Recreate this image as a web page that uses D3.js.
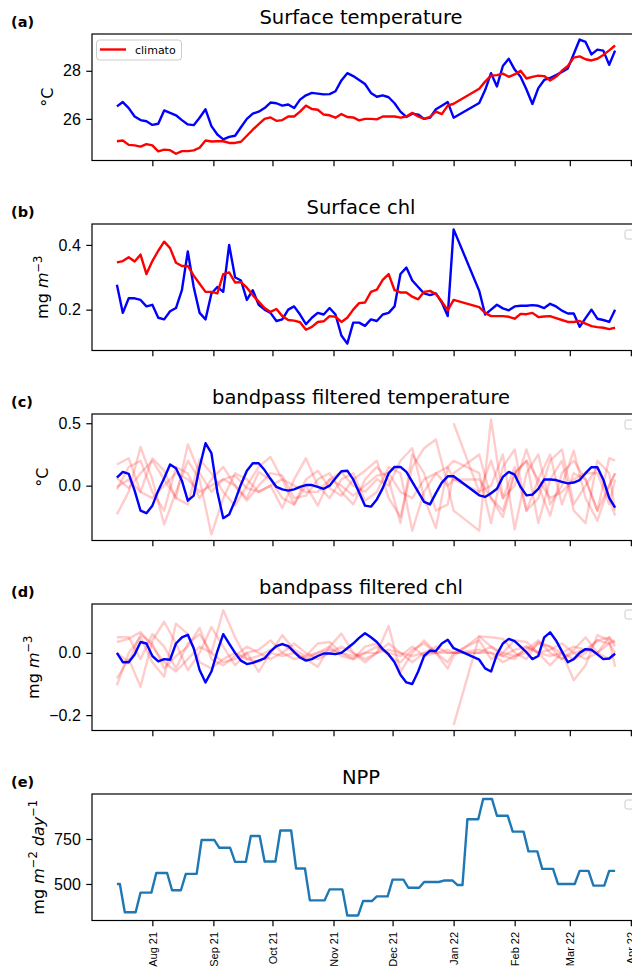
<!DOCTYPE html>
<html>
<head>
<meta charset="utf-8">
<script src="https://cdn.jsdelivr.net/npm/d3@7"></script>
<style>
body { margin: 0; background: #fff; }
svg { display: block; font-family: "DejaVu Sans", sans-serif; }
</style>
</head>
<body>
<svg width="632" height="973"></svg>
<script>
// sample dates (gap early January)
var dates = ["2021-07-14","2021-07-17","2021-07-20","2021-07-23","2021-07-26","2021-07-29",
	"2021-08-01","2021-08-04","2021-08-07","2021-08-10","2021-08-13","2021-08-16","2021-08-19","2021-08-22","2021-08-25","2021-08-28","2021-08-31",
	"2021-09-03","2021-09-06","2021-09-09","2021-09-12","2021-09-15","2021-09-18","2021-09-21","2021-09-24","2021-09-27","2021-09-30",
	"2021-10-03","2021-10-06","2021-10-09","2021-10-12","2021-10-15","2021-10-18","2021-10-21","2021-10-24","2021-10-27","2021-10-30",
	"2021-11-02","2021-11-05","2021-11-08","2021-11-11","2021-11-14","2021-11-17","2021-11-20","2021-11-23","2021-11-26","2021-11-29",
	"2021-12-02","2021-12-05","2021-12-08","2021-12-11","2021-12-14","2021-12-17","2021-12-20","2021-12-23","2021-12-26","2021-12-29",
	"2022-01-01","2022-01-14","2022-01-17","2022-01-20","2022-01-23","2022-01-26","2022-01-29",
	"2022-02-01","2022-02-04","2022-02-07","2022-02-10","2022-02-13","2022-02-16","2022-02-19","2022-02-22","2022-02-25","2022-02-28",
	"2022-03-03","2022-03-06","2022-03-09","2022-03-12","2022-03-15","2022-03-18","2022-03-21","2022-03-24"];

var sstObs = [26.52, 26.70, 26.45, 26.1, 25.95, 25.9, 25.75, 25.8, 26.35, 26.25,
	26.15, 25.95, 25.77, 25.74, 26.05, 26.4, 25.7, 25.35, 25.15, 25.25,
	25.3, 25.65, 26.0, 26.22, 26.3, 26.45, 26.68, 26.65, 26.55, 26.6,
	26.45, 26.8, 26.98, 27.08, 27.05, 27.02, 27.03, 27.15, 27.6, 27.9,
	27.78, 27.62, 27.45, 27.08, 26.92, 26.98, 26.9, 26.65, 26.3, 26.08,
	26.22, 26.18, 26.0, 26.05, 26.4, 26.55, 26.7, 26.05, 26.66, 27.2,
	27.9, 27.35, 28.2, 28.5, 28.05, 27.75, 27.22, 26.62, 27.28, 27.62,
	27.7, 27.82, 27.95, 28.1, 28.7, 29.3, 29.2, 28.68, 28.88, 28.84,
	28.25, 28.84];
var sstClim = [25.07, 25.1, 24.92, 24.9, 24.85, 24.95, 24.9, 24.65, 24.72, 24.7,
	24.55, 24.66, 24.66, 24.69, 24.8, 25.1, 25.06, 25.07, 25.07, 25.0,
	25.0, 25.05, 25.3, 25.55, 25.78, 26.0, 26.06, 25.92, 25.95, 26.1,
	26.1, 26.3, 26.55, 26.41, 26.38, 26.18, 26.15, 26.05, 26.2, 26.08,
	26.06, 25.94, 26.0, 26.0, 25.98, 26.1, 26.1, 26.1, 26.05, 26.1,
	26.25, 26.1, 26.0, 26.08, 26.3, 26.2, 26.55, 26.63, 27.25, 27.55,
	27.8, 27.82, 27.88, 27.75, 27.85, 28.0, 27.68, 27.75, 27.8, 27.78,
	27.6, 27.75, 28.0, 28.2, 28.55, 28.6, 28.48, 28.43, 28.5, 28.66,
	28.85, 29.05];

var chlObs = [0.277, 0.19, 0.235, 0.235, 0.23, 0.21, 0.215, 0.175, 0.17, 0.195,
	0.205, 0.26, 0.38, 0.27, 0.19, 0.17, 0.25, 0.27, 0.255, 0.40,
	0.3, 0.29, 0.23, 0.26, 0.215, 0.2, 0.19, 0.165, 0.17, 0.2,
	0.21, 0.185, 0.155, 0.175, 0.19, 0.185, 0.205, 0.185, 0.12, 0.095,
	0.16, 0.16, 0.15, 0.17, 0.165, 0.185, 0.19, 0.21, 0.31, 0.33,
	0.29, 0.27, 0.25, 0.245, 0.25, 0.222, 0.18, 0.448, 0.258, 0.185,
	0.2, 0.215, 0.204, 0.198, 0.21, 0.212, 0.212, 0.214, 0.212, 0.205,
	0.218, 0.21, 0.197, 0.188, 0.188, 0.147, 0.174, 0.2, 0.172, 0.168,
	0.162, 0.2];
var chlClim = [0.346, 0.35, 0.362, 0.349, 0.37, 0.31, 0.35, 0.382, 0.41, 0.39,
	0.345, 0.335, 0.335, 0.305, 0.28, 0.255, 0.255, 0.25, 0.31, 0.315,
	0.284, 0.285, 0.268, 0.245, 0.225, 0.205, 0.193, 0.202, 0.18, 0.168,
	0.166, 0.161, 0.138, 0.147, 0.162, 0.164, 0.18, 0.178, 0.162, 0.175,
	0.2, 0.22, 0.222, 0.255, 0.262, 0.292, 0.31, 0.26, 0.253, 0.253,
	0.24, 0.232, 0.255, 0.258, 0.248, 0.225, 0.198, 0.23, 0.208, 0.19,
	0.18, 0.18, 0.18, 0.178, 0.172, 0.187, 0.186, 0.19, 0.177, 0.179,
	0.18, 0.174, 0.168, 0.162, 0.162, 0.165, 0.157, 0.149, 0.146, 0.144,
	0.14, 0.144];

var sstBand = [0.065, 0.11, 0.095, -0.04, -0.2, -0.22, -0.16, -0.04, 0.06, 0.17,
	0.14, 0.04, -0.12, -0.08, 0.15, 0.34, 0.26, -0.05, -0.26, -0.23,
	-0.12, 0.01, 0.12, 0.18, 0.18, 0.125, 0.055, -0.01, -0.03, -0.04,
	-0.03, -0.01, 0.005, 0.005, -0.01, -0.025, 0.0, 0.06, 0.115, 0.12,
	0.05, -0.055, -0.16, -0.168, -0.11, -0.02, 0.1, 0.15, 0.15, 0.11,
	0.03, -0.05, -0.13, -0.15, -0.06, 0.025, 0.075, 0.075, -0.077, -0.09,
	-0.06, -0.025, 0.07, 0.11, 0.088, -0.01, -0.078, -0.072, -0.025, 0.05,
	0.05, 0.045, 0.03, 0.018, 0.025, 0.045, 0.1, 0.148, 0.148, 0.05,
	-0.098, -0.175];
var chlBand = [0.0, -0.03, -0.03, -0.005, 0.035, 0.03, -0.01, -0.027, -0.02, -0.022,
	0.03, 0.05, 0.058, 0.015, -0.055, -0.095, -0.06, 0.005, 0.06, 0.03,
	0.0, -0.025, -0.036, -0.032, -0.025, -0.018, 0.005, 0.022, 0.028, 0.022,
	0.003, -0.015, -0.025, -0.02, -0.01, -0.002, -0.002, -0.004, 0.0, 0.015,
	0.03, 0.048, 0.063, 0.05, 0.035, 0.012, -0.005, -0.03, -0.07, -0.095,
	-0.1, -0.06, -0.01, 0.007, 0.006, 0.03, 0.042, 0.015, -0.022, -0.05,
	-0.06, -0.005, 0.03, 0.045, 0.038, 0.02, 0.002, -0.02, -0.01, 0.05,
	0.066, 0.04, 0.005, -0.03, -0.02, 0.0, 0.012, 0.01, -0.005, -0.02,
	-0.018, -0.003];

// other years, bandpassed (every second sample)
var N = null;
var sstYears = [
	[-0.23, -0.05, 0.31, 0.05, -0.31, -0.05, 0.2, 0.05, -0.39, -0.1, 0.1, 0.05, -0.05, 0.0, -0.18, 0.05, 0.22, 0.0, -0.1, 0.05, 0.1, -0.12, -0.05, 0.15, 0.1, -0.36, -0.05, 0.1, 0.0, 0.05, -0.05, 0.0, 0.25, -0.35, 0.1, 0.25, -0.15, 0.0, 0.28, -0.1, -0.28, 0.0, 0.1],
	[0.17, 0.22, -0.05, 0.22, 0.12, -0.1, -0.15, 0.21, 0.1, -0.05, -0.16, 0.0, 0.15, 0.23, 0.05, -0.15, 0.05, 0.12, -0.02, -0.08, 0.05, 0.12, 0.2, -0.1, -0.25, 0.15, 0.3, 0.37, 0.0, -0.2, -0.36, 0.53, -0.1, 0.0, 0.29, 0.0, -0.24, 0.1, 0.2, 0.05, -0.2, 0.22, 0.2],
	[0.06, -0.02, 0.1, 0.2, 0.05, -0.1, 0.33, 0.1, -0.05, 0.05, 0.0, -0.1, 0.11, 0.05, -0.1, -0.15, 0.0, -0.16, 0.05, 0.11, 0.0, -0.05, 0.05, 0.0, 0.2, 0.3, -0.1, -0.34, 0.15, 0.2, 0.1, -0.3, 0.15, 0.29, -0.2, -0.1, 0.2, 0.29, -0.15, 0.0, 0.15, -0.1, -0.24],
	[-0.01, 0.05, -0.05, -0.1, 0.0, 0.1, 0.05, -0.05, 0.0, 0.05, 0.08, -0.02, -0.05, 0.0, 0.05, 0.0, -0.05, -0.05, 0.05, 0.0, -0.08, 0.0, 0.08, 0.1, -0.05, -0.1, 0.05, 0.1, 0.15, 0.05, 0.05, -0.1, -0.2, 0.1, 0.2, 0.05, -0.1, -0.05, 0.05, 0.1, 0.1, -0.15, 0.05],
	[-0.03, 0.15, 0.2, -0.05, -0.2, 0.15, 0.1, -0.1, 0.05, 0.15, 0.0, -0.12, 0.0, 0.1, 0.08, -0.1, -0.08, 0.05, 0.1, -0.05, -0.15, 0.05, 0.15, 0.05, -0.3, 0.25, 0.1, -0.2, -0.15, 0.1, 0.25, -0.1, -0.25, 0.1, 0.2, -0.3, 0.05, 0.2, -0.2, -0.3, 0.2, 0.1, -0.2],
	[N, N, N, N, N, N, N, N, N, N, N, N, N, N, N, N, N, N, N, N, N, N, N, N, N, N, N, N, N, 0.5, -0.05, 0.2, -0.1, 0.15, -0.2, 0.05, 0.25, -0.15, 0.1, 0.05, -0.2, 0.0, 0.1]
];
var chlYears = [
	[0.035, 0.045, 0.067, 0.02, -0.03, -0.06, -0.02, 0.02, 0.0, 0.137, 0.05, -0.02, -0.03, 0.0, -0.01, 0.0, -0.02, -0.045, 0.02, 0.062, 0.0, -0.03, 0.0, 0.086, -0.061, 0.0, 0.04, 0.0, -0.05, -0.01, 0.053, 0.05, 0.045, 0.0, -0.02, 0.035, 0.02, 0.0, -0.02, 0.0, 0.04, 0.03, 0.0],
	[-0.082, -0.02, -0.109, 0.04, 0.1, 0.03, -0.056, 0.0, 0.083, 0.02, -0.04, 0.0, -0.061, 0.0, 0.057, 0.01, -0.01, 0.0, 0.02, -0.01, -0.02, 0.0, 0.02, 0.0, -0.01, 0.02, -0.01, 0.0, 0.01, 0.0, 0.04, -0.02, 0.0, 0.04, 0.035, 0.0, -0.04, 0.0, -0.088, -0.04, 0.057, 0.04, -0.045],
	[-0.104, 0.0, 0.05, -0.03, -0.077, 0.094, 0.06, -0.03, -0.05, -0.02, 0.0, -0.02, -0.01, 0.01, 0.03, 0.0, -0.02, 0.0, 0.01, 0.0, -0.01, 0.0, 0.0, 0.01, 0.0, -0.01, 0.0, 0.0, 0.0, 0.0, 0.01, 0.0, -0.01, 0.01, 0.02, 0.0, -0.01, 0.0, 0.02, 0.01, 0.0, 0.03, 0.04],
	[0.05, 0.05, -0.02, 0.06, 0.02, -0.05, 0.03, 0.06, 0.0, -0.03, -0.02, 0.0, 0.01, 0.04, 0.0, -0.02, -0.01, 0.03, 0.035, 0.0, -0.02, 0.02, 0.03, -0.01, -0.03, 0.01, 0.03, 0.0, -0.03, 0.0, 0.0, 0.0, -0.03, -0.01, 0.01, 0.04, 0.0, -0.02, 0.01, 0.05, 0.0, -0.02, 0.0],
	[0.0, -0.03, 0.06, 0.03, -0.05, -0.01, 0.02, 0.08, -0.02, -0.04, -0.01, 0.02, 0.0, -0.02, 0.0, 0.03, 0.0, -0.02, 0.0, 0.02, 0.0, -0.02, 0.0, 0.03, 0.0, -0.03, 0.0, 0.02, 0.0, 0.0, 0.0, 0.02, -0.01, -0.02, 0.02, 0.0, 0.01, 0.03, 0.0, -0.02, 0.0, 0.05, 0.02],
	[N, N, N, N, N, N, N, N, N, N, N, N, N, N, N, N, N, N, N, N, N, N, N, N, N, N, N, N, N, -0.232, 0.053, 0.02, 0.0, -0.01, 0.0, 0.03, 0.02, -0.02, 0.0, 0.01, 0.04, 0.05, 0.03]
];

// 8-day NPP composites
var nppDates = ["2021-07-14","2021-07-18","2021-07-26","2021-08-03","2021-08-11","2021-08-18","2021-08-26",
	"2021-09-04","2021-09-12","2021-09-20","2021-09-27","2021-10-05","2021-10-13","2021-10-20","2021-10-30",
	"2021-11-08","2021-11-16","2021-11-23","2021-12-01","2021-12-09","2021-12-17","2021-12-27",
	"2022-01-03","2022-01-08","2022-01-16","2022-01-23","2022-01-31","2022-02-08","2022-02-15","2022-02-23",
	"2022-03-06","2022-03-13","2022-03-21"];
var nppValues = [500, 343, 452, 561, 465, 556, 744, 701, 623, 767,
	625, 797, 586, 409, 470, 325, 405, 431, 524, 479,
	511, 519, 494, 860, 972, 879, 791, 681, 584, 500,
	573, 491, 573];

var parse = d3.timeParse("%Y-%m-%d");
var t = dates.map(parse);
var tFaint = t.filter(function(d, i) { return i % 2 === 0 || i === 57 || i === 81; });

var svg = d3.select("svg");
var left = 92, right = 640, ph = 126.5;

var t0 = d3.min(t), t1 = d3.max(t), pad = (t1 - t0) * 0.05;
var x = d3.scaleTime()
	.domain([new Date(+t0 - pad), new Date(+t1 + pad)])
	.range([left, right]);

var blue = "#0000ff", red = "#ff0000", faint = "rgba(255,0,0,0.2)", tab = "#1f77b4";

function pairs(tt, vv) {
	return tt.map(function(d, i) { return [d, vv[i]]; });
}

// step line for NPP
var nppPts = [];
var nd = nppDates.map(parse);
for (var i = 0; i < nd.length; i++) {
	var end = i < nd.length - 1 ? d3.timeHour.offset(nd[i + 1], -60) : t1;
	nppPts.push([nd[i], nppValues[i]]);
	nppPts.push([end, nppValues[i]]);
}

var panels = [
	{ top: 34, label: "(a)", title: "Surface temperature", dom: [24.27, 29.53], ticks: [26, 28], fmt: "d",
		ylabel: [{ t: "°C" }],
		lines: [{ d: pairs(t, sstObs), c: blue }, { d: pairs(t, sstClim), c: red }] },
	{ top: 224, label: "(b)", title: "Surface chl", dom: [0.0738, 0.4646], ticks: [0.2, 0.4], fmt: ".1f",
		ylabel: [{ t: "mg " }, { t: "m", it: 1 }, { t: "\u22123", sup: 1, dy: -6.5 }],
		lines: [{ d: pairs(t, chlObs), c: blue }, { d: pairs(t, chlClim), c: red }] },
	{ top: 414, label: "(c)", title: "bandpass filtered temperature", dom: [-0.439, 0.574], ticks: [0, 0.5], fmt: ".1f",
		ylabel: [{ t: "°C" }],
		lines: sstYears.map(function(v) { return { d: pairs(tFaint, v), c: faint }; })
			.concat([{ d: pairs(t, sstBand), c: blue }]) },
	{ top: 604, label: "(d)", title: "bandpass filtered chl", dom: [-0.2494, 0.157], ticks: [-0.2, 0], fmt: ".1f",
		ylabel: [{ t: "mg " }, { t: "m", it: 1 }, { t: "\u22123", sup: 1, dy: -6.5 }],
		lines: chlYears.map(function(v) { return { d: pairs(tFaint, v), c: faint }; })
			.concat([{ d: pairs(t, chlBand), c: blue }]) },
	{ top: 794, label: "(e)", title: "NPP", dom: [297, 1000], ticks: [500, 750], fmt: "d",
		ylabel: [{ t: "mg " }, { t: "m", it: 1 }, { t: "\u22122", sup: 1, dy: -6.5 }, { t: " ", dy: 6.5 },
			{ t: "day", it: 1 }, { t: "\u22121", sup: 1, dy: -6.5 }],
		lines: [{ d: nppPts, c: tab }], dates: true }
];

panels.forEach(function(p, pi) {
	var bottom = p.top + ph;
	var y = d3.scaleLinear().domain(p.dom).range([bottom, p.top]);

	svg.append("clipPath").attr("id", "clip" + pi)
		.append("rect").attr("x", left).attr("y", p.top).attr("width", right - left).attr("height", ph);

	var line = d3.line()
		.defined(function(d) { return d[1] != null; })
		.x(function(d) { return x(d[0]); })
		.y(function(d) { return y(d[1]); });

	var g = svg.append("g").attr("clip-path", "url(#clip" + pi + ")");
	p.lines.forEach(function(l) {
		g.append("path")
			.attr("d", line(l.d))
			.attr("fill", "none")
			.attr("stroke", l.c)
			.attr("stroke-width", 2.4)
			.attr("stroke-linejoin", "round");
	});

	// frame
	svg.append("rect")
		.attr("x", left).attr("y", p.top)
		.attr("width", right - left).attr("height", ph)
		.attr("fill", "none").attr("stroke", "#000").attr("stroke-width", 1.2);

	var ya = svg.append("g")
		.attr("transform", "translate(" + left + ",0)")
		.call(d3.axisLeft(y).tickValues(p.ticks).tickFormat(d3.format(p.fmt)).tickSize(5.7).tickPadding(5.5));
	ya.select(".domain").remove();
	ya.selectAll("line").attr("stroke-width", 1.2);
	ya.selectAll("text").style("font-size", "16px").attr("fill", "#000");

	var xa = svg.append("g")
		.attr("transform", "translate(0," + bottom + ")")
		.call(d3.axisBottom(x).ticks(d3.timeMonth.every(1)).tickSize(5.7)
			.tickFormat(p.dates ? d3.timeFormat("%b %y") : ""));
	xa.select(".domain").remove();
	xa.selectAll("line").attr("stroke-width", 1.2);
	if (p.dates) {
		xa.selectAll("text")
			.style("font-size", "11px")
			.attr("fill", "#000")
			.attr("text-anchor", "end")
			.attr("transform", "translate(0,11.4) rotate(-90)")
			.attr("x", 0).attr("y", 0).attr("dy", "0.35em");
	}

	// y label left of the tick labels
	var minX = d3.min(ya.selectAll("text").nodes(), function(n) { return n.getBBox().x; });
	var bx = left + minX - 6.5 - 3.8;
	var yl = svg.append("text")
		.attr("transform", "translate(" + bx + "," + (p.top + ph / 2) + ") rotate(-90)")
		.attr("text-anchor", "middle")
		.style("font-size", "16px");
	p.ylabel.forEach(function(part) {
		yl.append("tspan")
			.text(part.t)
			.attr("font-style", part.it ? "italic" : null)
			.style("font-size", part.sup ? "11.5px" : null)
			.attr("dy", part.dy || null);
	});

	svg.append("text")
		.attr("x", (left + right) / 2 - 5)
		.attr("y", p.top - 10)
		.attr("text-anchor", "middle")
		.style("font-size", "19.5px")
		.text(p.title);

	svg.append("text")
		.attr("x", 11)
		.attr("y", p.top - 7.5)
		.style("font-size", "14.5px")
		.style("font-weight", "bold")
		.text(p.label);

	if (pi === 0) {
		svg.append("rect")
			.attr("x", 96.5).attr("y", 40).attr("width", 85).attr("height", 20).attr("rx", 3)
			.attr("fill", "rgba(255,255,255,0.8)").attr("stroke", "#cccccc");
		svg.append("line")
			.attr("x1", 100).attr("x2", 126).attr("y1", 49.5).attr("y2", 49.5)
			.attr("stroke", red).attr("stroke-width", 2.4);
		svg.append("text")
			.attr("x", 135).attr("y", 53.5)
			.style("font-size", "11px")
			.text("climato");
	} else {
		// empty legend frame
		svg.append("rect")
			.attr("x", 625).attr("y", p.top + 6).attr("width", 22).attr("height", 9).attr("rx", 2)
			.attr("fill", "rgba(255,255,255,0.8)").attr("stroke", "#cccccc");
	}
});
</script>
</body>
</html>
